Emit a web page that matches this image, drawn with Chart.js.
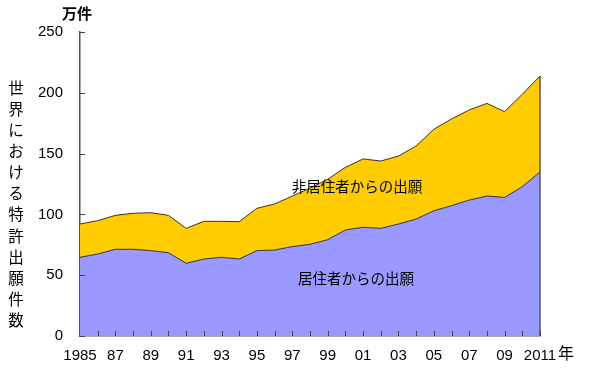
<!DOCTYPE html>
<html><head><meta charset="utf-8">
<script src="https://cdn.jsdelivr.net/npm/chart.js@4"></script>
<style>html,body{margin:0;padding:0;background:#fff}#wrap{width:600px;height:371px;position:relative}</style>
</head><body><div id="wrap"><canvas id="c" width="600" height="371"></canvas></div>
<script>
const years = [1985,1986,1987,1988,1989,1990,1991,1992,1993,1994,1995,1996,1997,1998,1999,2000,2001,2002,2003,2004,2005,2006,2007,2008,2009,2010,2011];
const residentFilings = [64.7,67.4,71.3,71.3,70.2,68.5,59.8,63.3,64.7,63.3,70.2,70.7,73.5,75.4,79.2,87.2,89.4,88.5,92.1,96.2,103,107.2,111.8,115.1,114,122.8,134.9];
const nonResidentFilings = [27.4,27.4,27.9,29.6,31.2,30.7,28.7,31.0,29.6,30.7,34.8,37.9,41.6,46.1,49.7,51.5,56.2,55.4,55.9,60.1,67,71.3,74.1,76.2,70.5,76,78.9];
const yTicks = [0,50,100,150,200,250];
const seriesNames = ['居住者からの出願','非居住者からの出願'];
const yTitle = '世界における特許出願件数';
const unitLabel = '万件';
const yearLabel = '年';

const FONT = '"Liberation Sans", Arial, sans-serif';
const JFONT = '"Noto Sans CJK JP", sans-serif';

const deco = {
  id: 'deco',
  afterDatasetsDraw(chart) {
    const ctx = chart.ctx, xs = chart.scales.x, ys = chart.scales.y;
    ctx.save();
    // right edge of stacked area
    const last = years.length - 1;
    const xr = xs.getPixelForValue(last);
    ctx.strokeStyle = '#555'; ctx.lineWidth = 1.5;
    ctx.beginPath();
    ctx.moveTo(xr, ys.getPixelForValue(residentFilings[last] + nonResidentFilings[last]));
    ctx.lineTo(xr, ys.getPixelForValue(0));
    ctx.stroke();
    // inward tick marks
    ctx.strokeStyle = '#444'; ctx.lineWidth = 1;
    const x0 = xs.left, y0 = ys.bottom;
    ctx.beginPath();
    yTicks.forEach(v => { const y = Math.round(ys.getPixelForValue(v)) + 0.5; ctx.moveTo(x0, y); ctx.lineTo(x0 + 5, y); });
    years.forEach((yr, i) => { if (i === 0) return; const x = Math.round(xs.getPixelForValue(i)) + 0.5; ctx.moveTo(x, y0); ctx.lineTo(x, y0 - 5); });
    ctx.stroke();
    // texts
    ctx.fillStyle = '#000';
    ctx.textAlign = 'center'; ctx.textBaseline = 'middle';
    ctx.font = '14.5px ' + JFONT;
    ctx.fillText(seriesNames[1], 357, 186);
    ctx.fillText(seriesNames[0], 356, 278);
    ctx.font = 'bold 15px ' + JFONT;
    ctx.fillText(unitLabel, 77, 13);
    ctx.font = '16px ' + JFONT;
    ctx.fillText(yearLabel, 566, 353);
    ctx.font = '15.5px ' + JFONT;
    const chars = Array.from(yTitle);
    chars.forEach((ch, i) => ctx.fillText(ch, 16, 88 + i * 21.1));
    ctx.restore();
  }
};

new Chart(document.getElementById('c'), {
  type: 'line',
  data: {
    labels: years.map(String),
    datasets: [
      { label: seriesNames[0], data: residentFilings, fill: 'origin', backgroundColor: '#9999FF', borderColor: '#333', borderWidth: 1, pointRadius: 0, tension: 0 },
      { label: seriesNames[1], data: nonResidentFilings, fill: '-1', backgroundColor: '#FFCC00', borderColor: '#333', borderWidth: 1, pointRadius: 0, tension: 0 }
    ]
  },
  options: {
    responsive: false, animation: false,
    devicePixelRatio: 1,
    layout: { padding: { left: 0, top: 32, right: 60, bottom: 0 } },
    plugins: { legend: { display: false }, tooltip: { enabled: false } },
    scales: {
      x: {
        offset: false,
        grid: { display: false, drawTicks: false },
        border: { display: true, color: '#555', width: 1.5 },
        ticks: {
          autoSkip: false, maxRotation: 0, padding: 11,
          color: '#000', font: { family: FONT, size: 15 },
          callback: function(v, i) {
            const yr = years[i];
            if ((yr - 1985) % 2 !== 0) return '';
            if (yr === 1985 || yr === 2011) return String(yr);
            return String(yr % 100).padStart(2, '0');
          }
        },
        afterFit: s => { s.height = 35; }
      },
      y: {
        stacked: true, min: 0, max: 250,
        grid: { display: false, drawTicks: false },
        border: { display: true, color: '#555', width: 1.5 },
        ticks: { stepSize: 50, padding: 17, color: '#000', font: { family: FONT, size: 15 } },
        afterFit: s => { s.width = 80; }
      }
    }
  },
  plugins: [deco]
});
</script></body></html>
